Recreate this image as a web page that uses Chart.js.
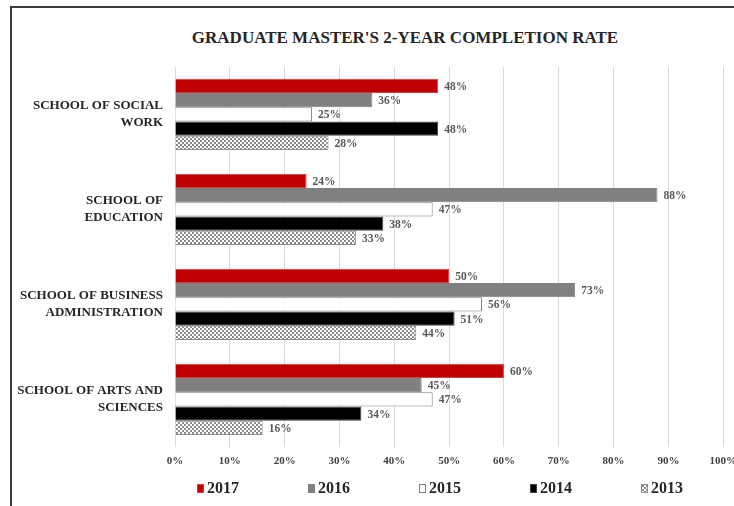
<!DOCTYPE html>
<html>
<head>
<meta charset="utf-8">
<title>Graduate Master's 2-Year Completion Rate</title>
<script src="https://cdn.jsdelivr.net/npm/chart.js@4.4.1/dist/chart.umd.min.js"></script>
<style>
  html, body { margin: 0; padding: 0; background: #fff; overflow: hidden; }
  body { width: 734px; height: 506px; position: relative; font-family: 'Liberation Serif', serif; }
  .frame { position: absolute; left: 10px; top: 6px; width: 800px; height: 600px; border-left: 2px solid #3a3a3a; border-top: 2px solid #3a3a3a; }
  #chartTitle { position: absolute; left: 0; top: 28px; width: 810px; text-align: center; font-weight: bold; font-size: 17px; color: #262626; }
  .wrap { position: absolute; left: 0; top: 0; width: 745px; height: 506px; }
  #legend { position: absolute; left: 197px; top: 479px; display: flex; font-weight: bold; font-size: 16px; color: #262626; }
  #legend .item { width: 111px; display: flex; align-items: center; }
  #legend .box { width: 7px; height: 9px; margin-right: 3px; box-sizing: border-box; }
</style>
</head>
<body>
<div class="frame"></div>
<div id="chartTitle">GRADUATE MASTER'S 2-YEAR COMPLETION RATE</div>
<div class="wrap"><canvas id="rateChart" width="745" height="506"></canvas></div>
<div id="legend"></div>
<script>
// Data (percent)
const schools = [
  ['SCHOOL OF SOCIAL', 'WORK'],
  ['SCHOOL OF', 'EDUCATION'],
  ['SCHOOL OF BUSINESS', 'ADMINISTRATION'],
  ['SCHOOL OF ARTS AND', 'SCIENCES'],
]
const years = ['2017', '2016', '2015', '2014', '2013']
const rate2017 = [48, 24, 50, 60]
const rate2016 = [36, 88, 73, 45]
const rate2015 = [25, 47, 56, 47]
const rate2014 = [48, 38, 51, 34]
const rate2013 = [28, 33, 44, 16]
const xTickValues = [0, 10, 20, 30, 40, 50, 60, 70, 80, 90, 100]

const serif = "'Liberation Serif', 'DejaVu Serif', serif"

// checker fill for 2013
const patternCanvas = document.createElement('canvas')
patternCanvas.width = 4
patternCanvas.height = 4
const pg = patternCanvas.getContext('2d')
pg.fillStyle = '#fff'
pg.fillRect(0, 0, 4, 4)
pg.fillStyle = '#8c8c8c'
pg.fillRect(0, 0, 2, 2)
pg.fillRect(2, 2, 2, 2)
const checker = pg.createPattern(patternCanvas, 'repeat')

// value labels at the end of each bar
const barLabels = {
  id: 'barLabels',
  afterDatasetsDraw(chart) {
    const ctx = chart.ctx
    ctx.save()
    ctx.font = 'bold 11.5px ' + serif
    ctx.fillStyle = '#595959'
    ctx.textAlign = 'left'
    ctx.textBaseline = 'middle'
    chart.data.datasets.forEach((ds, i) => {
      chart.getDatasetMeta(i).data.forEach((bar, j) => {
        ctx.fillText(ds.data[j] + '%', bar.x + 6, bar.y + 1)
      })
    })
    ctx.restore()
  },
}

const chart = new Chart(document.getElementById('rateChart'), {
  type: 'bar',
  data: {
    labels: schools,
    datasets: [
      { label: years[0], data: rate2017, backgroundColor: '#c00000', borderColor: '#d04040', borderWidth: 1 },
      { label: years[1], data: rate2016, backgroundColor: '#808080', borderColor: '#808080', borderWidth: 1 },
      { label: years[2], data: rate2015, backgroundColor: '#ffffff', borderColor: '#7f7f7f', borderWidth: 1 },
      { label: years[3], data: rate2014, backgroundColor: '#000000', borderColor: '#404040', borderWidth: 1 },
      { label: years[4], data: rate2013, backgroundColor: checker, borderColor: '#8c8c8c', borderWidth: 1 },
    ],
  },
  options: {
    indexAxis: 'y',
    responsive: false,
    animation: false,
    datasets: { bar: { categoryPercentage: 0.75, barPercentage: 1 } },
    layout: { padding: { top: 67, left: 12, right: 20, bottom: 30 } },
    scales: {
      x: {
        min: 0,
        max: 100,
        afterBuildTicks(scale) {
          scale.ticks = xTickValues.map((v) => ({ value: v }))
        },
        ticks: {
          callback: (v) => v + '%',
          color: '#404040',
          font: { family: serif, size: 11, weight: 'bold' },
          padding: 8,
          maxRotation: 0,
        },
        grid: { color: '#d9d9d9', drawTicks: false },
        border: { display: false },
      },
      y: {
        afterFit(scale) {
          scale.width = 163
        },
        ticks: {
          color: '#262626',
          font: { family: serif, size: 13, weight: 'bold', lineHeight: 1.3 },
          padding: 12,
        },
        grid: { display: false, drawTicks: false },
        border: { display: false },
      },
    },
    plugins: {
      legend: { display: false },
      tooltip: { enabled: false },
    },
  },
  plugins: [barLabels],
})

// HTML legend from the chart's own legend items
const legendEl = document.getElementById('legend')
Chart.defaults.plugins.legend.labels.generateLabels(chart).forEach((item) => {
  const row = document.createElement('div')
  row.className = 'item'
  const box = document.createElement('span')
  box.className = 'box'
  if (item.fillStyle === checker) {
    box.style.backgroundImage = 'url(' + patternCanvas.toDataURL() + ')'
  } else {
    box.style.background = item.fillStyle
  }
  box.style.border = '1px solid ' + item.strokeStyle
  const txt = document.createElement('span')
  txt.textContent = item.text
  row.appendChild(box)
  row.appendChild(txt)
  legendEl.appendChild(row)
})
</script>
</body>
</html>
